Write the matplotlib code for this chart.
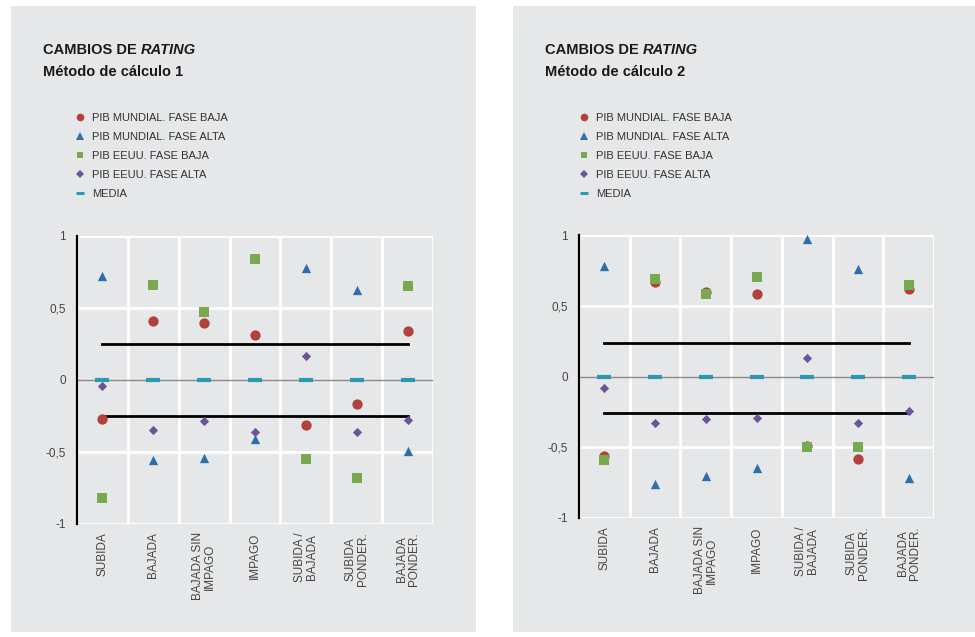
import matplotlib
matplotlib.use("Agg")
import matplotlib.pyplot as plt
from matplotlib.patches import Rectangle
from matplotlib.lines import Line2D

plt.rcParams['font.family'] = ['Liberation Sans', 'DejaVu Sans']

categories = ["SUBIDA", "BAJADA", "BAJADA SIN\nIMPAGO", "IMPAGO",
              "SUBIDA /\nBAJADA", "SUBIDA\nPONDER.", "BAJADA\nPONDER."]
series_names = ["PIB MUNDIAL. FASE BAJA", "PIB MUNDIAL. FASE ALTA",
                "PIB EEUU. FASE BAJA", "PIB EEUU. FASE ALTA", "MEDIA"]

# Método de cálculo 1
m1_mundial_baja = [-0.27, 0.41, 0.395, 0.31, -0.31, -0.17, 0.34]
m1_mundial_alta = [0.72, -0.555, -0.545, -0.41, 0.775, 0.625, -0.49]
m1_eeuu_baja = [-0.82, 0.66, 0.47, 0.837, -0.55, -0.68, 0.655]
m1_eeuu_alta = [-0.04, -0.347, -0.285, -0.36, 0.17, -0.36, -0.276]
m1_media = [0, 0, 0, 0, 0, 0, 0]
m1_bands = [0.25, -0.25]

# Método de cálculo 2
m2_mundial_baja = [-0.56, 0.665, 0.60, 0.58, -0.49, -0.58, 0.62]
m2_mundial_alta = [0.78, -0.76, -0.70, -0.645, 0.97, 0.76, -0.715]
m2_eeuu_baja = [-0.59, 0.69, 0.58, 0.70, -0.495, -0.50, 0.65]
m2_eeuu_alta = [-0.08, -0.33, -0.30, -0.29, 0.13, -0.33, -0.245]
m2_media = [0, 0, 0, 0, 0, 0, 0]
m2_bands = [0.24, -0.26]

yticks = [-1, -0.5, 0, 0.5, 1]
ytick_labels = ["-1", "-0,5", "0", "0,5", "1"]

W, H = 975, 637
BG = "#e6e7e9"
RED, BLUE, GREEN, PURPLE, TEAL = "#b2413c", "#2f6ea8", "#78a94f", "#6b5499", "#2a9ab3"

fig = plt.figure(figsize=(W / 100, H / 100), dpi=100)
fig.patch.set_facecolor("white")


def fx(px):
    return px / W


def fy(py):
    return 1 - py / H


def panel(x0, x1, y0, y1):
    fig.add_artist(Rectangle((fx(x0), fy(y1)), fx(x1) - fx(x0), fy(y0) - fy(y1),
                             transform=fig.transFigure, facecolor=BG, edgecolor="none", zorder=0))


def draw(px_left, px_right, py_top, py_bottom, title_x, legend_x, number,
         mb, ma, eb, ea, media, bands):
    ax = fig.add_axes([fx(px_left), fy(py_bottom), fx(px_right) - fx(px_left),
                       fy(py_top) - fy(py_bottom)])
    ax.set_facecolor(BG)
    x = list(range(len(categories)))
    ax.set_xlim(-0.5, len(categories) - 0.5)
    ax.set_ylim(-1, 1)
    # grid
    for b in [i - 0.5 for i in range(len(categories) + 1)]:
        ax.axvline(b, color="white", lw=2, zorder=1)
    for yv in [-1, -0.5, 0.5, 1]:
        ax.axhline(yv, color="white", lw=2, zorder=1)
    ax.axhline(0, color="#8a8a8a", lw=1, zorder=2)
    for sp in ["top", "right", "bottom"]:
        ax.spines[sp].set_visible(False)
    ax.spines["left"].set_color("black")
    ax.spines["left"].set_linewidth(1.6)
    ax.spines["left"].set_zorder(5)
    ax.set_yticks(yticks)
    ax.set_yticklabels(ytick_labels)
    ax.tick_params(axis="y", length=0, pad=8, labelsize=8.5, labelcolor="#444444")
    ax.set_xticks(x)
    ax.set_xticklabels(categories, rotation=90, va="top", ha="center",
                       fontsize=8.5, color="#444444", linespacing=1.0)
    ax.tick_params(axis="x", length=0, pad=6)

    for b in bands:
        ax.plot([x[0], x[-1]], [b, b], color="black", lw=2, zorder=3)
    ax.scatter(x, media, marker="_", s=110, linewidths=3, color=TEAL, zorder=4)
    ax.scatter(x, mb, marker="o", s=55, color=RED, zorder=5, linewidths=0)
    ax.scatter(x, ma, marker="^", s=45, color=BLUE, zorder=5, linewidths=0)
    ax.scatter(x, eb, marker="s", s=42, color=GREEN, zorder=5, linewidths=0)
    ax.scatter(x, ea, marker="D", s=22, color=PURPLE, zorder=5, linewidths=0)

    t1 = fig.text(fx(title_x), fy(50), "CAMBIOS DE ", fontsize=10.5, fontweight="bold",
                  color="#1a1a1a", va="center", ha="left")
    ax.annotate("RATING", xy=(1, 0), xycoords=t1, va="bottom", ha="left",
                fontsize=10.5, fontweight="bold", fontstyle="italic", color="#1a1a1a",
                annotation_clip=False)
    fig.text(fx(title_x), fy(72), "Método de cálculo " + str(number), fontsize=10.5,
             fontweight="bold", color="#1a1a1a", va="center", ha="left")

    handles = [
        Line2D([], [], ls="none", marker="o", ms=5.5, color=RED, mew=0),
        Line2D([], [], ls="none", marker="^", ms=5.5, color=BLUE, mew=0),
        Line2D([], [], ls="none", marker="s", ms=5, color=GREEN, mew=0),
        Line2D([], [], ls="none", marker="D", ms=3.8, color=PURPLE, mew=0),
        Line2D([], [], ls="none", marker="_", ms=5.5, color=TEAL, mew=2.2),
    ]
    leg = ax.legend(handles, series_names,
                    loc="upper left", bbox_to_anchor=(fx(legend_x), fy(113)),
                    bbox_transform=fig.transFigure, frameon=False, fontsize=8,
                    labelspacing=0.8, handlelength=0.7, handletextpad=0.75,
                    borderpad=0, borderaxespad=0)
    for t in leg.get_texts():
        t.set_color("#333333")
    return ax


panel(11, 476, 6, 632)
panel(513, 980, 6, 632)

draw(77, 433, 236, 524, 43, 76, 1,
     m1_mundial_baja, m1_mundial_alta, m1_eeuu_baja, m1_eeuu_alta, m1_media, m1_bands)
draw(579, 934, 235, 518, 545, 580, 2,
     m2_mundial_baja, m2_mundial_alta, m2_eeuu_baja, m2_eeuu_alta, m2_media, m2_bands)

fig.savefig("out.png", dpi=100, facecolor="white")
